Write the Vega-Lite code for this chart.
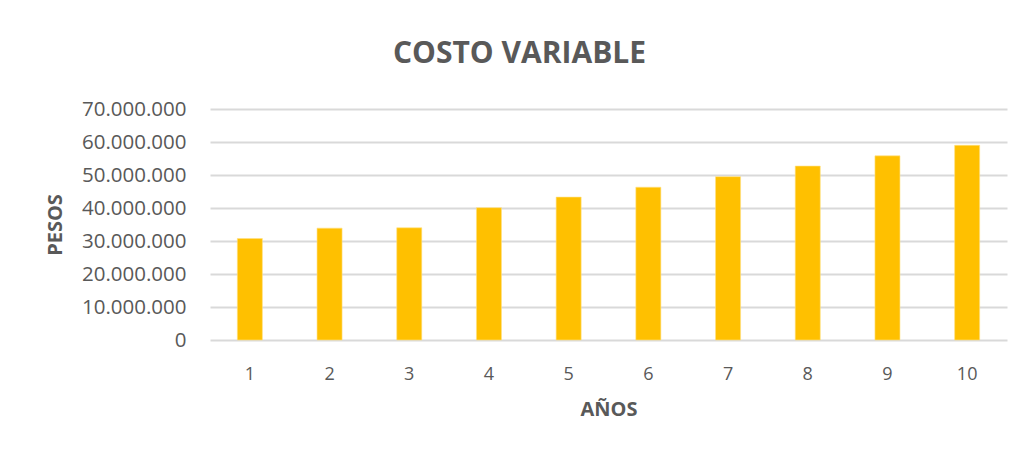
{
  "$schema": "https://vega.github.io/schema/vega-lite/v6.json",
  "width": 797,
  "height": 231,
  "autosize": {"type": "none"},
  "padding": {"left": 210, "top": 109, "right": 13, "bottom": 112},
  "background": "white",
  "title": {
    "text": "COSTO VARIABLE",
    "font": "Open Sans",
    "fontSize": 30,
    "fontWeight": "bold",
    "color": "#595959",
    "anchor": "middle",
    "dx": -89,
    "offset": 30
  },
  "data": {
    "values": [
      {"anio": 1, "costo": 30750000},
      {"anio": 2, "costo": 33900000},
      {"anio": 3, "costo": 34000000},
      {"anio": 4, "costo": 40100000},
      {"anio": 5, "costo": 43300000},
      {"anio": 6, "costo": 46300000},
      {"anio": 7, "costo": 49500000},
      {"anio": 8, "costo": 52700000},
      {"anio": 9, "costo": 55800000},
      {"anio": 10, "costo": 59000000}
    ]
  },
  "mark": {"type": "bar", "color": "#FFC000", "stroke": "#FFE083", "strokeWidth": 0.6},
  "encoding": {
    "x": {
      "field": "anio",
      "type": "ordinal",
      "title": "AÑOS",
      "scale": {"paddingInner": 0.686, "paddingOuter": 0.343},
      "axis": {
        "labelAngle": 0,
        "labelFont": "Open Sans",
        "labelFontSize": 18,
        "labelColor": "#595959",
        "labelPadding": 25,
        "ticks": false,
        "domain": false,
        "titleFont": "Open Sans",
        "titleFontSize": 20,
        "titleFontWeight": "bold",
        "titleColor": "#595959",
        "titlePadding": 16
      }
    },
    "y": {
      "field": "costo",
      "type": "quantitative",
      "title": "PESOS",
      "scale": {"domain": [0, 70000000], "nice": false},
      "axis": {
        "values": [0, 10000000, 20000000, 30000000, 40000000, 50000000, 60000000, 70000000],
        "format": ",d",
        "labelFont": "Open Sans",
        "labelFontSize": 20.5,
        "labelColor": "#595959",
        "labelPadding": 24,
        "ticks": false,
        "domain": false,
        "gridColor": "#D9D9D9",
        "gridWidth": 2,
        "titleFont": "Open Sans",
        "titleFontSize": 20,
        "titleFontWeight": "bold",
        "titleColor": "#595959",
        "titlePadding": 16
      }
    }
  },
  "config": {
    "view": {"stroke": null},
    "locale": {
      "number": {"decimal": ",", "thousands": ".", "grouping": [3], "currency": ["$", ""]}
    }
  }
}
